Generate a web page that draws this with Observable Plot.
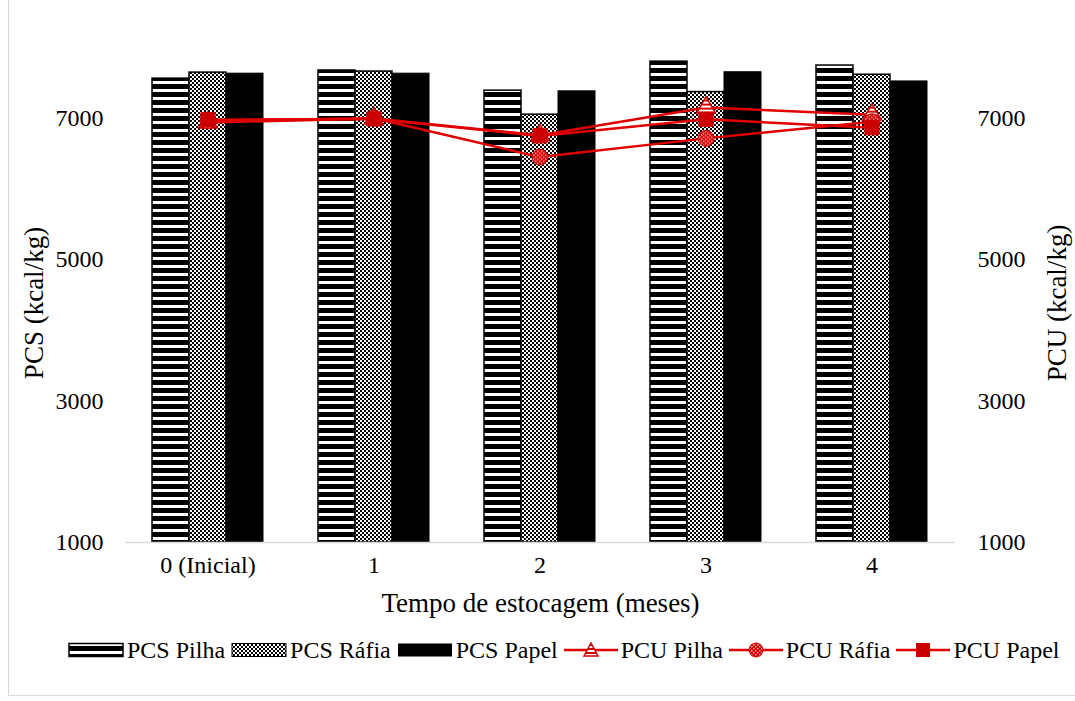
<!DOCTYPE html>
<html>
<head>
<meta charset="utf-8">
<script src="https://cdn.jsdelivr.net/npm/d3@7"></script>
<script src="https://cdn.jsdelivr.net/npm/@observablehq/plot@0.6"></script>
<style>
  html, body { margin: 0; padding: 0; background: #fff; }
  body { width: 1075px; height: 701px; position: relative; overflow: hidden; font-family: "Liberation Serif", "Times New Roman", serif; }
  #frame { position: absolute; left: 8px; top: -2px; width: 1080px; height: 698px; border: 1px solid #d9d9d9; box-sizing: border-box; }
  #chart { position: absolute; left: 0; top: 0; }
  #legend { position: absolute; left: 65px; top: 630px; height: 40px; display: flex; align-items: center; justify-content: flex-start; font-size: 24px; color: #000; white-space: nowrap; }
  .item { display: flex; align-items: center; margin: 0 3px; }
  .item svg { margin-right: 3px; }
</style>
</head>
<body>
<svg width="0" height="0" style="position:absolute">
  <defs>
    <pattern id="pStripe" width="8" height="8" patternUnits="userSpaceOnUse">
      <rect width="8" height="8" fill="#000"/>
      <rect y="1" width="8" height="3" fill="#fff"/>
    </pattern>
    <pattern id="pCheck" width="4" height="4" patternUnits="userSpaceOnUse">
      <rect width="4" height="4" fill="#000"/>
      <rect x="0" y="0" width="2" height="2" fill="#fff"/>
      <rect x="2" y="2" width="2" height="2" fill="#fff"/>
    </pattern>
    <pattern id="pTriRed" width="4" height="4" patternUnits="userSpaceOnUse">
      <rect width="4" height="4" fill="#fff"/>
      <rect y="0" width="4" height="2" fill="#d40000"/>
    </pattern>
    <pattern id="pCircRed" width="4" height="4" patternUnits="userSpaceOnUse">
      <rect width="4" height="4" fill="#d40000"/>
      <rect x="0" y="0" width="1.5" height="1.5" fill="#f3b0b0"/>
      <rect x="2" y="2" width="1.5" height="1.5" fill="#f3b0b0"/>
    </pattern>
  </defs>
</svg>
<div id="frame"></div>
<div id="chart"></div>
<div id="legend"></div>
<script>
// ---- data ----
const categories = ["0 (Inicial)", "1", "2", "3", "4"];
const pcsPilha = [7560, 7675, 7390, 7800, 7745];
const pcsRafia = [7645, 7660, 7050, 7370, 7615];
const pcsPapel = [7630, 7630, 7380, 7650, 7520];
const pcuPilha = [6940, 6995, 6760, 7150, 7050];
const pcuRafia = [6965, 7000, 6450, 6715, 6950];
const pcuPapel = [6980, 6990, 6750, 6985, 6865];
const yTicks = [1000, 3000, 5000, 7000];
const yDomain = [1000, 8000];
const seriesNames = ["PCS Pilha", "PCS Ráfia", "PCS Papel", "PCU Pilha", "PCU Ráfia", "PCU Papel"];

const rows = categories.map((c, i) => ({
  cat: c,
  pcsPilha: pcsPilha[i], pcsRafia: pcsRafia[i], pcsPapel: pcsPapel[i],
  pcuPilha: pcuPilha[i], pcuRafia: pcuRafia[i], pcuPapel: pcuPapel[i]
}));

const lineRed = "#e00000";
const markRed = "#cc0000";
const barW = 37;
const fmt = d3.format("d");

const chart = Plot.plot({
  width: 1075,
  height: 630,
  marginLeft: 125,
  marginRight: 120,
  marginTop: 47,
  marginBottom: 88,
  style: { fontFamily: "'Liberation Serif', 'Times New Roman', serif", fontSize: "24px", color: "#000", background: "transparent" },
  x: { domain: categories, paddingInner: 0.777, paddingOuter: 0.3885, label: null },
  y: { domain: yDomain },
  marks: [
    Plot.axisY({ ticks: yTicks, tickFormat: fmt, tickSize: 0, tickPadding: 22, label: "PCS (kcal/kg)", labelAnchor: "center", labelArrow: "none", labelOffset: 102 }),
    Plot.axisY({ anchor: "right", ticks: yTicks, tickFormat: fmt, tickSize: 0, tickPadding: 22, label: "PCU (kcal/kg)", labelAnchor: "center", labelArrow: "none", labelOffset: 110 }),
    Plot.axisX({ tickSize: 0, tickPadding: 13, label: "Tempo de estocagem (meses)", labelAnchor: "center", labelArrow: "none", labelOffset: 69 }),
    Plot.barY(rows, { x: "cat", y1: yDomain[0], y2: "pcsPilha", dx: -barW, fill: "url(#pStripe)", stroke: "#000", strokeWidth: 1.5 }),
    Plot.barY(rows, { x: "cat", y1: yDomain[0], y2: "pcsRafia", fill: "url(#pCheck)", stroke: "#000", strokeWidth: 1.5 }),
    Plot.barY(rows, { x: "cat", y1: yDomain[0], y2: "pcsPapel", dx: barW, fill: "#000", stroke: "#000", strokeWidth: 1 }),
    Plot.ruleY([yDomain[0]], { stroke: "#d9d9d9", strokeWidth: 1.5 }),
    Plot.line(rows, { x: "cat", y: "pcuPilha", stroke: lineRed, strokeWidth: 2.5 }),
    Plot.line(rows, { x: "cat", y: "pcuRafia", stroke: lineRed, strokeWidth: 2.5 }),
    Plot.line(rows, { x: "cat", y: "pcuPapel", stroke: lineRed, strokeWidth: 2.5 }),
    Plot.dot(rows, { x: "cat", y: "pcuPilha", symbol: "triangle", r: 7, fill: "url(#pTriRed)", stroke: markRed, strokeWidth: 1.5 }),
    Plot.dot(rows, { x: "cat", y: "pcuRafia", symbol: "circle", r: 8, fill: "url(#pCircRed)", stroke: markRed, strokeWidth: 1 }),
    Plot.dot(rows, { x: "cat", y: "pcuPapel", symbol: "square", r: 8, fill: markRed, stroke: markRed, strokeWidth: 1 })
  ]
});
document.getElementById("chart").appendChild(chart);

// axis title sizes and small vertical shift of the rotated titles
chart.querySelectorAll("text").forEach(t => {
  const s = t.textContent;
  if (s === "PCS (kcal/kg)" || s === "PCU (kcal/kg)" || s === "Tempo de estocagem (meses)") {
    t.setAttribute("font-size", "27px");
    t.style.fontSize = "27px";
  }
  if (s === "PCS (kcal/kg)" || s === "PCU (kcal/kg)") {
    const tr = t.getAttribute("transform") || "";
    t.setAttribute("transform", tr + " translate(-8,0)");
  }
});

// ---- legend ----
const legend = document.getElementById("legend");
const swatches = [
  `<svg width="56" height="16"><rect x="1" y="1.5" width="54" height="13" fill="url(#pStripe)" stroke="#000" stroke-width="1.5"/></svg>`,
  `<svg width="56" height="16"><rect x="1" y="1.5" width="54" height="13" fill="url(#pCheck)" stroke="#000" stroke-width="1"/></svg>`,
  `<svg width="56" height="16"><rect x="1" y="1.5" width="54" height="13" fill="#000"/></svg>`,
  `<svg width="54" height="20"><line x1="0" x2="54" y1="10" y2="10" stroke="${lineRed}" stroke-width="2.5"/><path d="M27,3 L34,16 L20,16 Z" fill="url(#pTriRed)" stroke="${markRed}" stroke-width="1.5"/></svg>`,
  `<svg width="54" height="20"><line x1="0" x2="54" y1="10" y2="10" stroke="${lineRed}" stroke-width="2.5"/><circle cx="27" cy="10" r="7" fill="url(#pCircRed)" stroke="${markRed}"/></svg>`,
  `<svg width="54" height="20"><line x1="0" x2="54" y1="10" y2="10" stroke="${lineRed}" stroke-width="2.5"/><rect x="20" y="3" width="14" height="14" fill="${markRed}"/></svg>`
];
seriesNames.forEach((name, i) => {
  const d = document.createElement("div");
  d.className = "item";
  d.innerHTML = swatches[i] + `<span>${name}</span>`;
  legend.appendChild(d);
});
</script>
</body>
</html>
